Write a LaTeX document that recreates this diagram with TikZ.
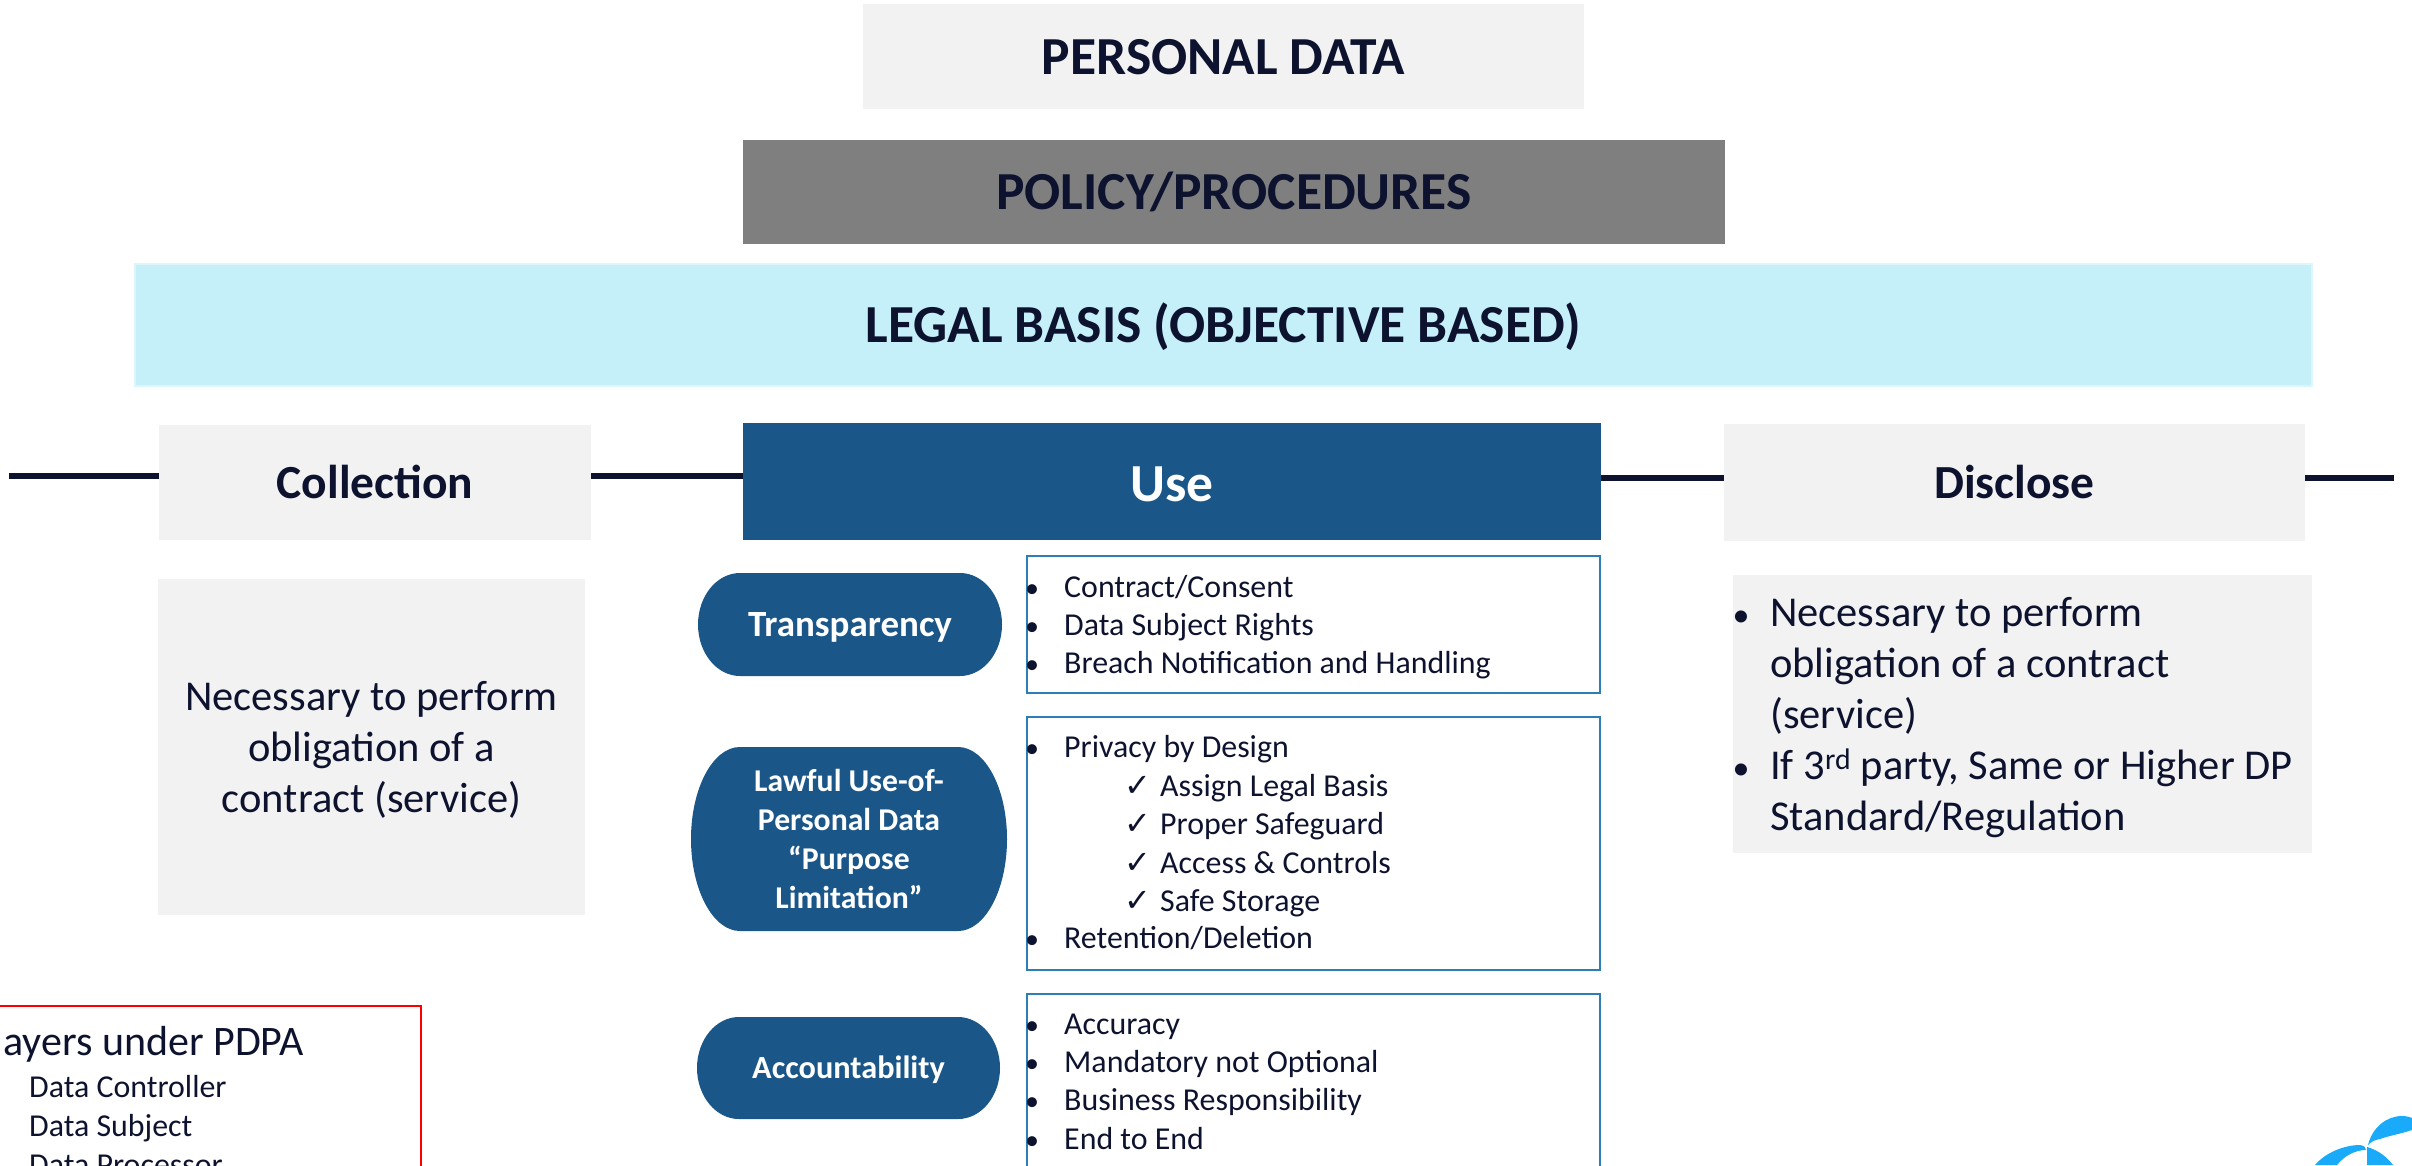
\documentclass[tikz,border=0pt]{standalone}
\usepackage{fontspec}
\setmainfont{Carlito}
\newfontfamily\symfont{DejaVu Sans}
\usetikzlibrary{positioning}
\definecolor{inkdark}{HTML}{0D132E}
\definecolor{usedark}{HTML}{1B5689}
\definecolor{boxline}{HTML}{2E7DB5}
\definecolor{lightbox}{HTML}{F2F2F2}
\definecolor{midbox}{HTML}{7F7F7F}
\definecolor{legalbox}{HTML}{C5F0F9}
\definecolor{logoblue}{HTML}{19ABF9}
\tikzset{
  band/.style n args={3}{rectangle,fill=#3,minimum width=#1,minimum height=#2,inner sep=0pt,text=inkdark},
  topfont/.style={font=\fontsize{53.5}{60}\selectfont\bfseries,text height=45pt,text depth=10pt},
  rowfont/.style={font=\fontsize{47.5}{56}\selectfont\bfseries,text height=41pt,text depth=10pt},
  link/.style={draw=inkdark,line width=5.5pt},
  listbox/.style n args={2}{rectangle,draw=boxline,line width=2.5pt,minimum width=#1,minimum height=#2,inner sep=0pt},
  pill/.style n args={3}{rectangle,minimum width=#1,minimum height=#2,inner sep=0pt,align=center,text=white,
    path picture={\fill[usedark] (path picture bounding box.west)
      arc[start angle=180,end angle=90,x radius=#3pt,y radius=#2/2]
      -- ++(#1-2*#3pt,0pt)
      arc[start angle=90,end angle=0,x radius=#3pt,y radius=#2/2]
      arc[start angle=0,end angle=-90,x radius=#3pt,y radius=#2/2]
      -- ++(-#1+2*#3pt,0pt)
      arc[start angle=-90,end angle=-180,x radius=#3pt,y radius=#2/2] -- cycle;}},
  linetext/.style={anchor=base west,inner sep=0pt,text=inkdark,font=\fontsize{31.9}{38}\selectfont},
  bigtext/.style={anchor=base west,inner sep=0pt,text=inkdark,font=\fontsize{42.5}{51}\selectfont},
  dotmark/.style={anchor=base,inner sep=0pt,text=inkdark,font=\fontsize{28}{38}\selectfont},
  bigdot/.style={anchor=base,inner sep=0pt,text=inkdark,font=\fontsize{34}{51}\selectfont},
  tickmark/.style={anchor=base west,inner sep=0pt,text=inkdark,font=\symfont\fontsize{32}{38}\selectfont},
}
\begin{document}
\begin{tikzpicture}[x=1pt,y=-1pt]
  \useasboundingbox (0,0) rectangle (2412,1165);
  \clip (0,0) rectangle (2412,1165);

  % top bands
  \node[band={721pt}{105pt}{lightbox},topfont] (personal) at (1223.5,56.5) {PERSONAL DATA};
  \node[band={982pt}{104pt}{midbox},topfont] (policy) at (1234,192) {POLICY/PROCEDURES};
  \node[band={2177pt}{122pt}{legalbox},topfont,draw=legalbox!60!white,line width=2pt] (legal) at (1223.5,325) {LEGAL BASIS (OBJECTIVE BASED)};

  % main row
  \node[band={432pt}{115pt}{lightbox},rowfont] (collect) at (375,482.5) {Collection};
  \node[band={858pt}{117pt}{usedark},topfont,text height=50pt,text=white] (use) at (1172,481.5) {Use};
  \node[band={581pt}{117pt}{lightbox},rowfont] (disclose) at (2014.5,482.5) {Disclose};
  \coordinate (tailL) at (9,476);
  \coordinate (tailR) at (2394,478);
  \path[link] (tailL) -- (collect.west |- tailL);
  \path[link] (collect.east |- tailL) -- (use.west |- tailL);
  \path[link] (use.east |- tailR) -- (disclose.west |- tailR);
  \path[link] (disclose.east |- tailR) -- (tailR);

  % grey text boxes
  \node[band={427pt}{336pt}{lightbox}] (collectbox) at (371.5,747) {};
  \foreach \y/\txt in {710/Necessary to perform,761/obligation of a,812/contract (service)}{
    \node[bigtext,anchor=base] at (371.5,\y) {\txt};
  }
  \node[band={579pt}{278pt}{lightbox}] (disclosebox) at (2022.5,714) {};
  \foreach \y/\txt in {626/Necessary to perform,677/obligation of a contract,728/(service),
                       779/{If 3\textsuperscript{rd} party, Same or Higher DP},830/{Standard/Regulation}}{
    \node[bigtext] at (1770,\y) {\txt};
  }
  \foreach \y in {626,779}{
    \node[bigdot] at (1741,\y) {•};
  }

  % pills
  \node[pill={304pt}{103pt}{42},font=\fontsize{37}{44}\selectfont\bfseries,text height=33pt,text depth=10pt] (transp) at (850,624.5) {Transparency};
  \node[pill={316pt}{184pt}{49},font=\fontsize{31.7}{38.7}\selectfont\bfseries] (lawful) at (849,839)
    {Lawful Use-of-\\Personal Data\\“Purpose\\Limitation”};
  \node[pill={303pt}{102pt}{42},font=\fontsize{32.3}{38}\selectfont\bfseries,text height=31pt,text depth=10pt] (account) at (848.5,1068) {Accountability};

  % list boxes
  \node[listbox={573pt}{137pt}] (transpbox) at (1313.5,624.5) {};
  \node[listbox={573pt}{253pt}] (lawfulbox) at (1313.5,843.5) {};
  \node[listbox={573pt}{210pt}] (accountbox) at (1313.5,1099) {};
  \foreach \y/\txt in {597/{Contract/Consent},635/Data Subject Rights,673/Breach Notification and Handling,
                       757/Privacy by Design,948/{Retention/Deletion},
                       1034/Accuracy,1072/Mandatory not Optional,1110/Business Responsibility,1149/End to End}{
    \node[dotmark] at (1032,\y) {•};
    \node[linetext] at (1064,\y) {\txt};
  }
  \foreach \y/\txt in {796/Assign Legal Basis,834/Proper Safeguard,873/Access \& Controls,911/Safe Storage}{
    \node[tickmark] at (1124,\y) {✓};
    \node[linetext] at (1160,\y) {\txt};
  }

  % players box
  \node[rectangle,draw=red,line width=2pt,minimum width=469pt,minimum height=240pt,inner sep=0pt] (players) at (186,1126) {};
  \node[anchor=base east,inner sep=0pt,text=inkdark,font=\fontsize{42}{48}\selectfont] (playershead) at (304,1055) {Players under PDPA};
  \foreach \y/\txt in {1097/Data Controller,1136/Data Subject,1175/Data Processor}{
    \node[linetext] at (29,\y) {\txt};
  }

  % logo
  \fill[logoblue] (2368,1145) .. controls (2372,1128) and (2386,1116) .. (2402,1116)
    .. controls (2406,1116) and (2410,1117) .. (2412,1118) -- (2412,1130)
    .. controls (2400,1134) and (2388,1136) .. (2380,1139)
    .. controls (2374,1140) and (2371,1142) .. (2368,1145) -- cycle;
  \fill[logoblue] (2315,1165) .. controls (2326,1152) and (2345,1145) .. (2360,1145)
    .. controls (2363,1145) and (2365,1146) .. (2366,1150)
    .. controls (2356,1150) and (2345,1155) .. (2337,1165) -- cycle;
  \fill[logoblue] (2367,1147) .. controls (2378,1150) and (2387,1157) .. (2393,1165) -- (2367,1165) -- cycle;
\end{tikzpicture}
\end{document}
